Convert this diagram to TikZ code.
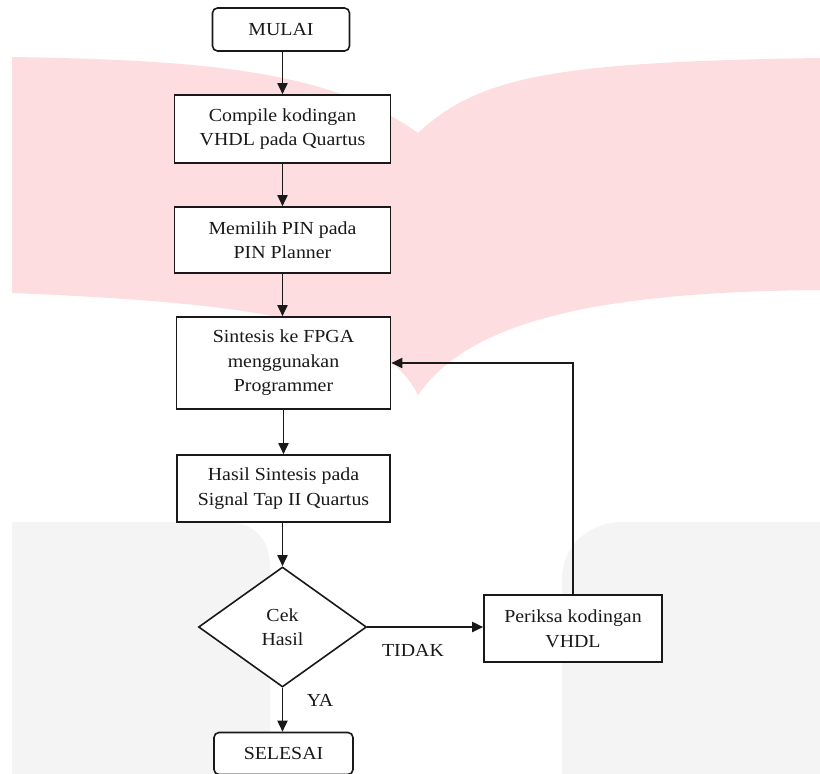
\documentclass[tikz,border=0pt]{standalone}
\usepackage{fontspec}
\setmainfont{Liberation Serif}[FakeStretch=1.08]
\usetikzlibrary{arrows.meta,shapes.geometric}
\definecolor{wmpink}{RGB}{253,221,223}
\definecolor{wmgray}{RGB}{244,244,244}
\definecolor{ink}{RGB}{25,25,25}
\begin{document}
\begin{tikzpicture}[x=1pt,y=-1pt,
  every node/.style={font=\fontsize{18.4}{24.5}\selectfont, text=ink, align=center, inner sep=0pt},
  box/.style={draw=ink, line width=1.6pt, fill=white, rectangle},
  term/.style={box, rounded corners=5pt},
  decision/.style={draw=ink, line width=1.6pt, fill=white, diamond, minimum width=168pt, minimum height=120pt},
  flow/.style={draw=ink, line width=1.8pt, -{Triangle[length=11pt,width=10pt]}}]
\useasboundingbox (0,0) rectangle (820,774);
\fill[white] (0,0) rectangle (820,774);
% watermark background
\fill[wmpink] (12,57) .. controls (200,60) and (330,70) .. (418,133)
  .. controls (480,75) and (560,62) .. (820,58) -- (820,290)
  .. controls (600,292) and (470,320) .. (418,395)
  .. controls (380,320) and (250,303) .. (12,293) -- cycle;
\fill[wmgray] (12,774) -- (12,522) -- (225,522) .. controls (255,522) and (270,540) .. (270,567) -- (270,774) -- cycle;
\fill[wmgray] (820,522) -- (622,522) .. controls (590,522) and (562,545) .. (562,580) -- (562,774) -- (820,774) -- cycle;
% nodes
\node[term, minimum width=137pt, minimum height=43pt] (mulai) at (281,29.5) {MULAI};
\node[box, minimum width=216pt, minimum height=68pt] (compile) at (282.5,129) {Compile kodingan\\VHDL pada Quartus};
\node[box, minimum width=216pt, minimum height=66pt] (pin) at (282.5,240) {Memilih PIN pada\\PIN Planner};
\node[box, minimum width=214pt, minimum height=92pt] (sintesis) at (283.5,363) {Sintesis ke FPGA\\menggunakan\\Programmer};
\node[box, minimum width=213pt, minimum height=67pt] (hasil) at (283.5,488.5) {Hasil Sintesis pada\\Signal Tap II Quartus};
\node[decision] (cek) at (282.5,627) {Cek\\Hasil};
\node[box, minimum width=178pt, minimum height=67pt] (periksa) at (573,628.5) {Periksa kodingan\\VHDL};
\node[term, minimum width=139pt, minimum height=42pt] (selesai) at (283.5,753.5) {SELESAI};
\node (tidak) at (413,650) {TIDAK};
\node (ya) at (320,700) {YA};
% connectors
\draw[flow] (mulai.south -| compile) -- (compile.north);
\draw[flow] (compile) -- (pin);
\draw[flow] (pin.south) -- (pin.south |- sintesis.north);
\draw[flow] (sintesis.south) -- (hasil.north);
\draw[flow] (hasil.south -| cek) -- (cek.north);
\draw[flow] (cek.south) -- (cek.south |- selesai.north);
\draw[flow] (cek.east) -- (cek.east -| periksa.west);
\draw[flow] (periksa.north) |- (sintesis.east);
\end{tikzpicture}
\end{document}
